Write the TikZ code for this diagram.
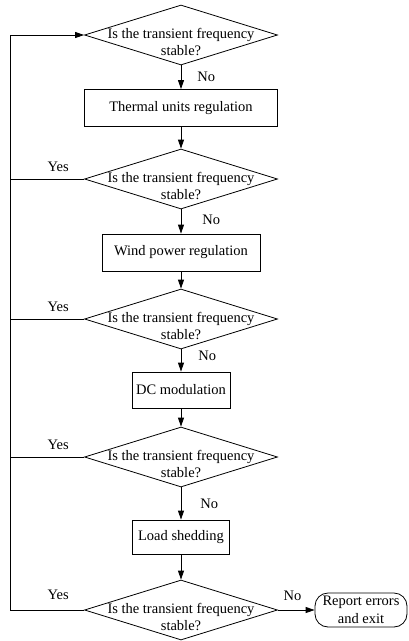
\documentclass[tikz,border=0pt]{standalone}
\usepackage{fontspec}
\setmainfont{Liberation Serif}
\usetikzlibrary{positioning,calc}
\usetikzlibrary{arrows.meta,shapes.geometric}
\newcommand{\asktext}{\raisebox{-12pt}[0pt][0pt]{\begin{tabular}{@{}c@{}}Is the transient frequency\\stable?\end{tabular}}}
\tikzset{
	decision/.style={diamond,draw=black,line width=0.8pt,aspect=3.2,inner sep=-8pt,
		minimum width=193pt,minimum height=60pt,align=center},
	process/.style={rectangle,draw=black,line width=0.8pt,inner sep=0pt,minimum height=37pt},
	terminal/.style={rectangle,draw=black,line width=0.8pt,rounded corners=13pt,inner sep=0pt,
		minimum width=92pt,minimum height=34pt,align=center},
	flow/.style={draw=black,line width=0.8pt,-{Triangle[length=9pt,width=6pt]}},
	link/.style={draw=black,line width=0.8pt},
	tag/.style={inner sep=0pt},
}

\begin{document}
\begin{tikzpicture}[x=1pt,y=-1pt,font=\fontsize{14.5}{17.5}\selectfont]
			\useasboundingbox (0,0) rectangle (408,641);
			% main column
			\node[decision] (q1) at (181,35) {\asktext};
			\node[process,minimum width=193pt] (thermal) at (181,108) {Thermal units regulation};
			\node[decision] (q2) at (181,179) {\asktext};
			\node[process,minimum width=158pt] (wind) at (181,252.5) {Wind power regulation};
			\node[decision] (q3) at (181,319) {\asktext};
			\node[process,minimum width=98pt,minimum height=36pt] (dcmod) at (181,390) {DC modulation};
			\node[decision] (q4) at (181,457) {\asktext};
			\node[process,minimum width=97pt,minimum height=34pt] (shed) at (181,537) {Load shedding};
			\node[decision] (q5) at (181,610) {\asktext};
			\node[terminal] (exit) at (361,610) {Report errors\\and exit};
			\draw[flow] (q1) -- (thermal) node[tag,pos=0.5,right=16pt] {No};
			\draw[flow] (thermal) -- (q2);
			\draw[flow] (q2) -- (wind) node[tag,pos=0.45,right=21pt] {No};
			\draw[flow] (wind) -- (q3);
			\draw[flow] (q3) -- (dcmod) node[tag,pos=0.3,right=17pt] {No};
			\draw[flow] (dcmod) -- (q4);
			\draw[flow] (q4) -- (shed) node[tag,pos=0.5,right=19pt] {No};
			\draw[flow] (shed) -- (q5);
			\draw[flow] (q5) -- (exit) node[tag,pos=0.4,above=9pt] {No};
			% feedback loop
			\coordinate (turn) at (10,610);
			\coordinate (top) at (10,35);
			\draw[flow] (q5.west) -- (turn) -- (top) -- (q1.west);
			\draw[link] (q2.west) -- (q2.west -| turn) node[tag,pos=0.35,above=7pt] {Yes};
			\draw[link] (q3.west) -- (q3.west -| turn) node[tag,pos=0.35,above=7pt] {Yes};
			\draw[link] (q4.west) -- (q4.west -| turn) node[tag,pos=0.35,above=7pt] {Yes};
			\path (q5.west) -- (turn) node[tag,pos=0.35,above=10pt] {Yes};
		\end{tikzpicture}
\end{document}
